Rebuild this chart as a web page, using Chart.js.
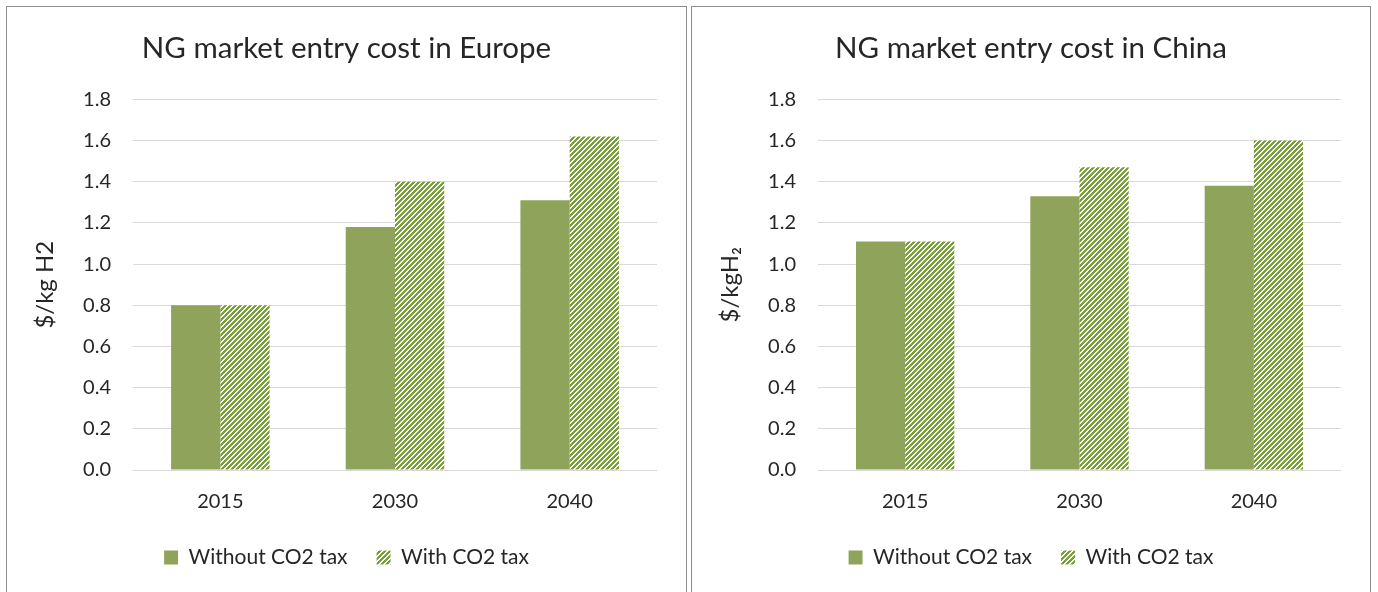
<!DOCTYPE html>
<html>
<head>
<meta charset="utf-8">
<script src="https://cdn.jsdelivr.net/npm/chart.js@4/dist/chart.umd.min.js"></script>
<style>
  html, body { margin: 0; padding: 0; background: #fff; width: 1378px; height: 592px; overflow: hidden; }
  .panel { position: absolute; top: 6px; height: 600px; border: 1px solid #8c8c8c; background: #fff; }
  #p1 { left: 6px; width: 679px; }
  #p2 { left: 691px; width: 678px; }
  .panel canvas { position: absolute; left: 0; top: 0; }
</style>
</head>
<body>
<div class="panel" id="p1"><canvas id="europe" width="679" height="585"></canvas></div>
<div class="panel" id="p2"><canvas id="china" width="678" height="585"></canvas></div>
<script>
(function() {
  'use strict';

  // Chart data
  const years = ['2015', '2030', '2040'];
  const seriesNames = ['Without CO2 tax', 'With CO2 tax'];
  const europeWithout = [0.80, 1.18, 1.31];
  const europeWith = [0.80, 1.40, 1.62];
  const chinaWithout = [1.11, 1.33, 1.38];
  const chinaWith = [1.11, 1.47, 1.60];

  const FONT = "Lato, 'Open Sans', sans-serif";
  const SOLID = '#8fa45a';
  const STRIPE = '#77a036';

  // diagonal "/" hatch like Excel's wide upward diagonal
  function makeHatch() {
    const size = 5;
    const c = document.createElement('canvas');
    c.width = size; c.height = size;
    const g = c.getContext('2d');
    g.fillStyle = '#fff';
    g.fillRect(0, 0, size, size);
    g.fillStyle = STRIPE;
    for (let x = 0; x < size; x++) {
      for (let y = 0; y < size; y++) {
        if ((x + y) % size < 3) g.fillRect(x, y, 1, 1);
      }
    }
    return g.createPattern(c, 'repeat');
  }

  function makeChart(id, title, yTitle, without, withTax) {
    const ctx = document.getElementById(id).getContext('2d');
    const hatch = makeHatch();
    return new Chart(ctx, {
      type: 'bar',
      data: {
        labels: years,
        datasets: [
          { label: seriesNames[0], data: without, backgroundColor: SOLID, borderWidth: 0 },
          { label: seriesNames[1], data: withTax, backgroundColor: hatch, borderWidth: 0 }
        ]
      },
      options: {
        responsive: false,
        animation: false,
        devicePixelRatio: 1,
        layout: { padding: { left: 20, right: 20, top: 0, bottom: 14 } },
        datasets: { bar: { categoryPercentage: 0.564, barPercentage: 1.0 } },
        plugins: {
          title: {
            display: true,
            text: title,
            color: '#262626',
            font: { family: FONT, size: 29.5, weight: 'normal' },
            padding: { top: 24, bottom: 33 }
          },
          legend: {
            position: 'bottom',
            labels: {
              color: '#262626',
              font: { family: FONT, size: 21 },
              boxWidth: 14,
              boxHeight: 14,
              padding: 29
            }
          },
          tooltip: { enabled: false }
        },
        scales: {
          x: {
            grid: { display: false, drawTicks: false },
            border: { display: false },
            ticks: { color: '#262626', font: { family: FONT, size: 20 }, padding: 20 },
            afterFit: function(scale) { scale.height = 48; }
          },
          y: {
            min: 0,
            max: 1.8,
            grid: { color: '#d9d9d9', lineWidth: 1, drawTicks: false },
            border: { display: false },
            ticks: {
              stepSize: 0.2,
              color: '#262626',
              font: { family: FONT, size: 20 },
              padding: 22,
              callback: function(v) { return Number(v).toFixed(1); }
            },
            title: {
              display: true,
              text: yTitle,
              color: '#262626',
              font: { family: FONT, size: 24 },
              padding: { top: 4, bottom: 0 }
            },
            afterFit: function(scale) { scale.width = 106; }
          },
          // empty spacer on the right so the plot ends where the reference's does
          yRight: {
            position: 'right',
            display: true,
            grid: { display: false, drawTicks: false },
            border: { display: false },
            ticks: { display: false },
            afterFit: function(scale) { scale.width = 9; }
          }
        }
      }
    });
  }

  makeChart('europe', 'NG market entry cost in Europe', '$/kg H2', europeWithout, europeWith);
  makeChart('china', 'NG market entry cost in China', '$/kgH\u2082', chinaWithout, chinaWith);
})();
</script>
</body>
</html>
